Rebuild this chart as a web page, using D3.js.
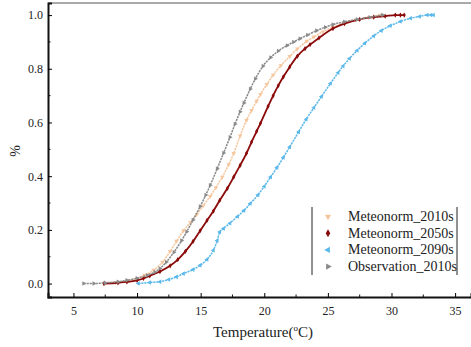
<!DOCTYPE html>
<html>
<head>
<meta charset="utf-8">
<script src="https://cdn.jsdelivr.net/npm/d3@7"></script>
<style>
  html, body { margin: 0; padding: 0; background: #fff; }
  svg { display: block; }
  text { font-family: "Liberation Serif", "DejaVu Serif", serif; fill: #222; }
</style>
</head>
<body>
<svg id="chart" width="471" height="347"></svg>
<script>
// Cumulative distributions of temperature (°C) for each dataset
const obsT  = [5.8, 6.6, 7.5, 8.5, 9.2, 10.0, 10.8, 11.4, 11.8, 12.3, 12.9, 13.5, 13.9, 14.4, 14.96, 15.4, 15.75, 16.3, 16.8, 17.3, 17.7, 18.1, 18.4, 18.9, 19.3, 19.9, 20.5, 21.1, 21.8, 22.3, 22.8, 23.4, 24.1, 24.8, 25.4, 26.3, 27.3, 28.3, 29.3];
const obsP  = [0, 0, 0.003, 0.007, 0.012, 0.02, 0.031, 0.043, 0.056, 0.08, 0.117, 0.16, 0.193, 0.237, 0.287, 0.33, 0.366, 0.428, 0.486, 0.545, 0.594, 0.64, 0.673, 0.725, 0.763, 0.81, 0.842, 0.866, 0.887, 0.9, 0.912, 0.926, 0.942, 0.955, 0.965, 0.975, 0.984, 0.992, 1.0];

const m2010T = [7.4, 8.3, 9.2, 10.0, 10.6, 11.3, 12.0, 12.6, 13.1, 13.65, 14.2, 14.7, 15.2, 15.75, 16.2, 16.7, 17.2, 17.6, 18.1, 18.6, 19.0, 19.4, 19.7, 20.2, 20.7, 21.3, 22.0, 22.6, 23.35, 23.9, 24.6, 25.4, 26.3, 27.2, 28.2, 29.1];
const m2010P = [0, 0.004, 0.01, 0.02, 0.032, 0.05, 0.08, 0.12, 0.158, 0.197, 0.228, 0.258, 0.29, 0.325, 0.358, 0.397, 0.443, 0.485, 0.55, 0.608, 0.645, 0.68, 0.705, 0.742, 0.777, 0.812, 0.846, 0.874, 0.903, 0.919, 0.938, 0.955, 0.97, 0.982, 0.992, 1.0];

const m2050T = [7.4, 8.5, 9.2, 10.0, 10.5, 11.0, 11.8, 12.6, 13.2, 13.8, 14.4, 14.96, 15.5, 16.0, 16.5, 17.1, 17.6, 18.1, 18.6, 19.0, 19.4, 19.7, 20.3, 20.7, 21.1, 21.5, 22.0, 22.6, 23.2, 23.6, 24.3, 25.4, 26.3, 27.5, 28.6, 29.5, 30.3, 30.7, 31.0];
const m2050P = [0, 0.003, 0.006, 0.012, 0.019, 0.029, 0.045, 0.066, 0.089, 0.12, 0.157, 0.197, 0.235, 0.27, 0.31, 0.355, 0.397, 0.44, 0.485, 0.527, 0.567, 0.597, 0.66, 0.7, 0.737, 0.77, 0.807, 0.847, 0.875, 0.89, 0.915, 0.95, 0.968, 0.984, 0.992, 0.996, 1.0, 1.0, 1.0];

const m2090T = [10.1, 11.0, 11.8, 12.5, 13.1, 13.65, 14.4, 14.96, 15.5, 16.0, 16.3, 16.5, 16.8, 17.3, 17.9, 18.4, 18.9, 19.5, 20.0, 20.5, 21.0, 21.5, 22.0, 22.7, 23.3, 23.9, 24.5, 25.2, 25.8, 26.2, 26.7, 27.3, 27.9, 28.6, 29.2, 29.9, 30.7, 31.5, 32.2, 32.8, 33.1, 33.3];
const m2090P = [0, 0.004, 0.007, 0.015, 0.025, 0.037, 0.052, 0.068, 0.09, 0.124, 0.16, 0.192, 0.205, 0.225, 0.25, 0.272, 0.298, 0.33, 0.362, 0.397, 0.432, 0.47, 0.509, 0.565, 0.612, 0.655, 0.697, 0.745, 0.785, 0.81, 0.838, 0.868, 0.895, 0.922, 0.942, 0.96, 0.976, 0.988, 0.995, 1.0, 1.0, 1.0];

const seriesNames  = ["Meteonorm_2010s", "Meteonorm_2050s", "Meteonorm_2090s", "Observation_2010s"];
const seriesColors = ["#f5c79f", "#8b0a0a", "#5ab8ea", "#8a8a8a"];
const xTicks = [5, 10, 15, 20, 25, 30, 35];
const yTicks = [0.0, 0.2, 0.4, 0.6, 0.8, 1.0];

const seriesT = [m2010T, m2050T, m2090T, obsT];
const seriesP = [m2010P, m2050P, m2090P, obsP];

const svg = d3.select("#chart");
const plotL = 48, plotR = 471, plotT = 3, plotB = 297;
const serif = "Liberation Serif, DejaVu Serif, serif";

const x = d3.scaleLinear().domain([3, 36.25]).range([plotL, plotR]);
const y = d3.scaleLinear().domain([-0.05, 1.045]).range([plotB, plotT]);

// marker shapes per series
const sym = [
  d3.symbol().type(d3.symbolTriangle).size(9),   // rotated 180 -> pointing down
  d3.symbol().type(d3.symbolDiamond).size(8),
  d3.symbol().type(d3.symbolTriangle).size(9),   // rotated -90 -> pointing left
  d3.symbol().type(d3.symbolTriangle).size(9)    // rotated 90 -> pointing right
];
const rot = [180, 0, -90, 90];

// top frame
svg.append("line").attr("x1", plotL).attr("x2", plotR).attr("y1", plotT).attr("y2", plotT)
  .attr("stroke", "#555").attr("stroke-width", 1);

// curves
const line = d3.line().x(d => x(d[0])).y(d => y(d[1])).curve(d3.curveMonotoneX);
seriesT.forEach((T, i) => {
  const pts = T.map((t, k) => [t, seriesP[i][k]]);
  const g = svg.append("g");
  g.append("path").datum(pts).attr("d", line)
    .attr("fill", "none").attr("stroke", seriesColors[i])
    .attr("stroke-width", i === 1 ? 1.8 : 1.5)
    .attr("stroke-dasharray", i === 1 ? null : "2.2,0.8");
  g.selectAll("path.m").data(pts).enter().append("path").attr("class", "m")
    .attr("d", sym[i]())
    .attr("transform", d => `translate(${x(d[0])},${y(d[1])}) rotate(${rot[i]})`)
    .attr("fill", seriesColors[i]);
});

// axes
const xAxis = d3.axisBottom(x).tickValues(xTicks).tickSize(-4).tickPadding(9).tickFormat(d3.format("d"));
const gx = svg.append("g").attr("transform", `translate(0,${plotB})`).call(xAxis)
  .attr("font-family", serif);
gx.select(".domain").attr("stroke", "#111").attr("stroke-width", 2);
gx.selectAll(".tick text").attr("font-size", 12);

const yAxis = d3.axisLeft(y).tickValues(yTicks).tickSize(-4).tickPadding(5).tickFormat(d3.format(".1f"));
const gy = svg.append("g").attr("transform", `translate(${plotL},0)`).call(yAxis)
  .attr("font-family", serif);
gy.select(".domain").attr("stroke", "#111").attr("stroke-width", 2);
gy.selectAll(".tick text").attr("font-size", 12);

// minor ticks
const xMinor = d3.range(7.5, 36, 5);
svg.append("g").selectAll("line").data(xMinor).enter().append("line")
  .attr("x1", d => x(d)).attr("x2", d => x(d)).attr("y1", plotB).attr("y2", plotB - 2.5)
  .attr("stroke", "#111");
const yMinor = [0.1, 0.3, 0.5, 0.7, 0.9];
svg.append("g").selectAll("line").data(yMinor).enter().append("line")
  .attr("x1", plotL).attr("x2", plotL + 2.5).attr("y1", d => y(d)).attr("y2", d => y(d))
  .attr("stroke", "#111");

// axis titles
const xt = svg.append("text").attr("x", 263).attr("y", 337).attr("text-anchor", "middle")
  .attr("font-size", 15);
xt.append("tspan").text("Temperature(");
xt.append("tspan").text("o").attr("font-size", 9).attr("dy", -6);
xt.append("tspan").text("C)").attr("dy", 6);

svg.append("text").attr("transform", "translate(20,151) rotate(-90)")
  .attr("text-anchor", "middle").attr("font-size", 14).text("%");

// legend
const lg = svg.append("g");
lg.append("line").attr("x1", 312).attr("x2", 312).attr("y1", 207).attr("y2", 275).attr("stroke", "#222");
lg.append("line").attr("x1", 457).attr("x2", 457).attr("y1", 207).attr("y2", 275).attr("stroke", "#222");
seriesNames.forEach((name, i) => {
  const cy = 216.5 + i * 16.7;
  lg.append("path").attr("d", d3.symbol().type(i === 1 ? d3.symbolDiamond : d3.symbolTriangle).size(18)())
    .attr("transform", `translate(328,${cy}) rotate(${rot[i]})`)
    .attr("fill", seriesColors[i]);
  lg.append("text").attr("x", 348).attr("y", cy + 4.5).attr("font-size", 14).text(name);
});
</script>
</body>
</html>
